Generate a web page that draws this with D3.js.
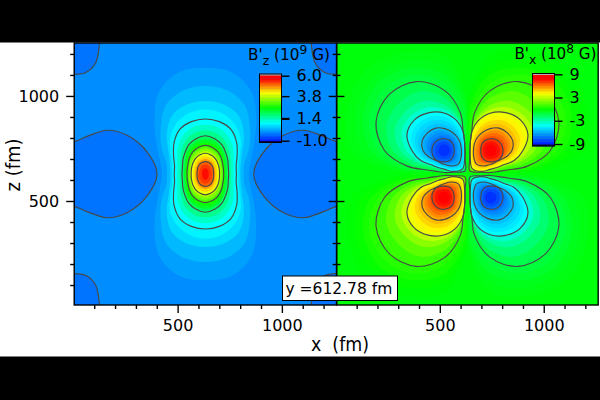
<!DOCTYPE html>
<html>
<head>
<meta charset="utf-8">
<script src="https://cdn.jsdelivr.net/npm/d3@7/dist/d3.min.js"></script>
<style>
html,body{margin:0;padding:0;background:#fff}
svg{display:block}
text{font-family:"DejaVu Sans",sans-serif;fill:#000}
.domain{display:none}
.tick line{stroke:#000;stroke-width:1.4}
</style>
</head>
<body>
<svg id="chart" width="600" height="400"></svg>
<script>
// Axis ticks, labels and colour bars
const majorTicks = [500, 1000];
const minorTicks = [100, 200, 300, 400, 600, 700, 800, 900, 1100, 1200];
const bzBarTicks = [6.0, 3.8, 1.4, -1.0];
const bzBarLabels = ["6.0", "3.8", "1.4", "-1.0"];
const bxBarTicks = [9, 3, -3, -9];
const bxBarLabels = ["9", "3", "-3", "-9"];
const sliceLabel = "y =612.78 fm";

// Field centre of both panels, in fm
const centreX = 633, centreZ = 628.5;

// B'z (10^9 G): iso-lines given as radii in fm from the centre, for one quadrant
const bzAngles = [0, 15, 30, 45, 60, 75, 90];
const bzBackground = 0.1;
const bzLowLevel = -0.1;
const bzLevels = [0.25, 0.45, 0.7, 0.9, 1, 1.35, 1.7, 2, 2.33, 2.66, 3, 3.33, 3.66, 4, 4.33, 4.66, 5, 5.2, 5.45];
const bzRadii = [
  [208, 224, 268, 345, 447, 500, 506],
  [184, 193, 242, 303, 378, 412, 419],
  [168, 176, 204, 262, 320, 342, 347],
  [160, 165, 192, 240, 278, 300, 307],
  [149, 153, 176, 212, 245, 258, 262],
  [135, 139, 156, 186, 213, 230, 234],
  [122, 125, 138, 161, 186, 202, 207],
  [112, 114, 125, 140, 160, 174, 182],
  [103, 105, 113, 130, 148, 161, 165],
  [95, 97, 104, 119, 134, 146, 149],
  [88, 90, 96, 108, 121, 131, 136],
  [80, 82, 88, 99, 110, 118, 122],
  [73, 75, 80, 89, 98, 105, 109],
  [68, 70, 74, 81, 89, 95, 99],
  [57, 59, 63, 69, 77, 82, 85],
  [48, 49, 53, 58, 65, 69, 71],
  [40, 41, 44, 49, 54, 58, 59],
  [30, 31, 33, 36, 40, 44, 45],
  [16, 17, 18, 20, 23, 26, 27]
];
const bzLineLevels = [1, 2, 3, 4, 5];

// Weak-field patches of B'z that meet the panel edges, offsets in fm from the centre
const bzSidePatch = [[690, 150], [626, 155], [567, 179], [471, 208], [375, 184], [279, 104], [232, 0]];
const bzCornerPatch = [[690, 470], [626, 474], [575, 482], [527, 527], [508, 620], [505, 680], [690, 680]];

// B'x (10^8 G): one lobe, radii in fm around its extremum at lobePeak
const lobePeak = [109, 112];
const bxAngles = [0, 22.5, 45, 67.5, 90, 112.5, 135, 157.5, 180, 202.5, 225, 247.5, 270, 292.5, 315, 337.5];
const bxLevels = [0.1, 0.25, 0.5, 0.75, 1, 1.6, 2.3, 3.1, 3.9, 4.3, 4.7, 5.05, 5.4, 5.8, 6.2, 6.6, 7, 7.5, 8];
const bxRadii = [
  [450, 505, 540, 505, 450, 270, 148, 110, 100, 110, 148, 112, 105, 110, 150, 260],
  [400, 465, 490, 465, 400, 260, 148, 110, 100, 110, 148, 112, 105, 110, 145, 240],
  [355, 425, 455, 425, 360, 240, 145, 108, 100, 110, 145, 112, 105, 108, 138, 225],
  [320, 395, 415, 390, 320, 215, 135, 105, 99, 108, 142, 112, 105, 108, 134, 210],
  [290, 358, 378, 355, 285, 195, 125, 103, 98, 106, 138, 112, 105, 108, 130, 195],
  [250, 305, 315, 305, 250, 180, 125, 103, 98, 105, 132, 112, 100, 100, 115, 170],
  [215, 260, 265, 255, 215, 168, 125, 103, 97, 104, 127, 111, 95, 94, 105, 150],
  [185, 225, 232, 222, 195, 160, 125, 103, 96, 103, 124, 110, 92, 90, 100, 135],
  [158, 197, 206, 195, 177, 152, 125, 103, 96, 103, 122, 108, 90, 88, 95, 125],
  [145, 175, 182, 175, 160, 135, 112, 97, 92, 98, 113, 100, 83, 80, 85, 112],
  [132, 155, 160, 155, 140, 122, 103, 92, 88, 93, 105, 93, 77, 74, 78, 102],
  [118, 136, 138, 135, 122, 108, 95, 87, 84, 89, 98, 86, 72, 68, 72, 92],
  [105, 118, 118, 115, 104, 94, 87, 82, 80, 85, 92, 80, 67, 62, 65, 82],
  [94, 104, 104, 101, 92, 84, 78, 72, 71, 75, 82, 72, 63, 61, 62, 76],
  [82, 90, 90, 87, 80, 74, 68, 62, 60, 64, 70, 65, 59, 60, 62, 71],
  [72, 75, 75, 72, 68, 64, 59, 54, 52, 55, 60, 58, 56, 58, 62, 67],
  [62, 62, 61, 59, 56, 54, 51, 47, 45, 47, 51, 54, 54, 57, 62, 63],
  [47, 47, 46, 45, 43, 41, 39, 36, 35, 36, 39, 41, 41, 43, 47, 48],
  [30, 30, 30, 29, 28, 27, 26, 24, 23, 24, 26, 27, 27, 29, 30, 31]
];
const bxLineLevels = [1, 3.9, 5.4, 7];
const lobeSigns = [[1, 1], [-1, 1], [-1, -1], [1, -1]];

// Colour ramp shared by both maps, position along the bar to colour
const rampStops = [0, 0.285, 0.51, 0.73, 0.93, 1];
const rampColors = ["#0000ff", "#00ffff", "#00ff00", "#ffff00", "#ff0000", "#ff0000"];
const ramp = d3.scaleLinear().domain(rampStops).range(rampColors).clamp(true);
const bzColor = d3.scaleLinear().domain([-1, 6]).range([0, 1]);
const bxColor = d3.scaleLinear().domain([-9, 9]).range([0, 1]);

const svg = d3.select("#chart");
svg.append("rect").attr("width", 600).attr("height", 400).attr("fill", "#fff");

const panelTop = 43, panelBottom = 305;
const leftRange = [74.2, 336.5], rightRange = [336.7, 598.2];
const xDomain = [4, 1262];
const zScale = d3.scaleLinear().domain([5, 1252]).range([panelBottom, panelTop]);
const xLeft = d3.scaleLinear().domain(xDomain).range(leftRange);
const xRight = d3.scaleLinear().domain(xDomain).range(rightRange);

const defs = svg.append("defs");
function addClip(id, range) {
  defs.append("clipPath").attr("id", id).append("rect")
    .attr("x", range[0]).attr("y", panelTop)
    .attr("width", range[1] - range[0]).attr("height", panelBottom - panelTop);
}
addClip("clip-left", leftRange);
addClip("clip-right", rightRange);

const toRad = d => d * Math.PI / 180;
const lineColor = "#484848";
const lineWidth = 1.15;

// Left panel: B'z
const left = svg.append("g").attr("clip-path", "url(#clip-left)");
left.append("rect").attr("x", leftRange[0]).attr("y", panelTop)
  .attr("width", leftRange[1] - leftRange[0]).attr("height", panelBottom - panelTop)
  .attr("fill", ramp(bzColor(bzBackground)));

const patchLine = d3.line().curve(d3.curveCatmullRom);
function drawPatches(patch, closedRing) {
  [1, -1].forEach(sx => {
    const pts = closedRing
      ? patch.concat(patch.slice(0, -1).reverse().map(p => [p[0], -p[1]]))
      : patch;
    (closedRing ? [1] : [1, -1]).forEach(sz => {
      const px = pts.map(p => [xLeft(centreX + sx * p[0]), zScale(centreZ + sz * p[1])]);
      left.append("path").attr("d", patchLine(px))
        .attr("fill", ramp(bzColor(bzLowLevel)))
        .attr("stroke", lineColor).attr("stroke-width", lineWidth);
    });
  });
}
drawPatches(bzSidePatch, true);
drawPatches(bzCornerPatch, false);

// One quadrant of radii is mirrored into a closed ring
function bzRing(radii) {
  const ring = [];
  bzAngles.forEach((a, i) => ring.push([radii[i] * Math.cos(toRad(a)), radii[i] * Math.sin(toRad(a))]));
  for (let i = bzAngles.length - 2; i >= 0; i--) ring.push([-ring[i][0], ring[i][1]]);
  for (let i = ring.length - 2; i > 0; i--) ring.push([ring[i][0], -ring[i][1]]);
  return ring;
}
const ringLine = d3.line().curve(d3.curveCatmullRomClosed.alpha(0.5));
bzLevels.forEach((level, i) => {
  const d = ringLine(bzRing(bzRadii[i]).map(p => [xLeft(centreX + p[0]), zScale(centreZ + p[1])]));
  left.append("path").attr("d", d).attr("fill", ramp(bzColor(level)));
});
bzLevels.forEach((level, i) => {
  if (!bzLineLevels.includes(level)) return;
  const d = ringLine(bzRing(bzRadii[i]).map(p => [xLeft(centreX + p[0]), zScale(centreZ + p[1])]));
  left.append("path").attr("d", d).attr("fill", "none")
    .attr("stroke", lineColor).attr("stroke-width", lineWidth);
});

// Right panel: B'x, four lobes of alternating sign
const right = svg.append("g").attr("clip-path", "url(#clip-right)");
right.append("rect").attr("x", rightRange[0]).attr("y", panelTop)
  .attr("width", rightRange[1] - rightRange[0]).attr("height", panelBottom - panelTop)
  .attr("fill", ramp(bxColor(0)));

function lobeRing(radii, sx, sz) {
  return bxAngles.map((a, i) => [
    xRight(centreX + sx * (lobePeak[0] + radii[i] * Math.cos(toRad(a)))),
    zScale(centreZ + sz * (lobePeak[1] + radii[i] * Math.sin(toRad(a))))
  ]);
}
lobeSigns.forEach(([sx, sz]) => {
  bxLevels.forEach((level, i) => {
    right.append("path").attr("d", ringLine(lobeRing(bxRadii[i], sx, sz)))
      .attr("fill", ramp(bxColor(level * sx * sz)));
  });
});
lobeSigns.forEach(([sx, sz]) => {
  bxLevels.forEach((level, i) => {
    if (!bxLineLevels.includes(level)) return;
    right.append("path").attr("d", ringLine(lobeRing(bxRadii[i], sx, sz)))
      .attr("fill", "none").attr("stroke", lineColor).attr("stroke-width", lineWidth);
  });
});

// Colour bars with their own value axes
function colorBar(x0, x1, top, bottom, domain, tickTop, tickBottom, colorOf, ticks, labels) {
  const y = d3.scaleLinear().domain(domain).range([tickBottom, tickTop]);
  const g = svg.append("g");
  const steps = d3.range(0, 48);
  const h = (bottom - top) / steps.length;
  g.selectAll("rect.step").data(steps).join("rect").attr("class", "step")
    .attr("x", x0).attr("width", x1 - x0)
    .attr("y", d => bottom - (d + 1) * h).attr("height", h + 0.4)
    .attr("fill", d => ramp(colorOf(domain[0] + (domain[1] - domain[0]) * (d + 0.5) / steps.length)));
  g.append("rect").attr("x", x0).attr("y", top).attr("width", x1 - x0).attr("height", 1.5).attr("fill", "#b4b4b4");
  g.append("rect").attr("x", x0).attr("y", bottom - 1.5).attr("width", x1 - x0).attr("height", 1.5).attr("fill", "#000050");
  g.append("rect").attr("x", x0).attr("y", top).attr("width", x1 - x0).attr("height", bottom - top)
    .attr("fill", "none").attr("stroke", "#000").attr("stroke-width", 1);
  const axis = d3.axisRight(y).tickValues(ticks).tickSize(8).tickPadding(7)
    .tickFormat((d, i) => labels[i]);
  const ag = g.append("g").attr("transform", `translate(${x1},0)`).call(axis);
  ag.selectAll("text").attr("font-size", 16).style("font-size", "16px");
  return ag;
}
const bzBar = colorBar(259.5, 281.5, 74, 142.5, [-1, 6], 75.7, 140.7, bzColor, bzBarTicks, bzBarLabels);
bzBar.selectAll(".tick line").filter(d => d === 1.4).style("stroke-width", 2.2);
colorBar(532.5, 554.5, 73.5, 146, [-9, 9], 74.3, 144, bxColor, bxBarTicks, bxBarLabels);

function barTitle(x, y, sub, exp) {
  const t = svg.append("text").attr("x", x).attr("y", y).attr("font-size", 16)
    .attr("xml:space", "preserve").attr("textLength", 82).attr("lengthAdjust", "spacingAndGlyphs");
  t.append("tspan").text("B'");
  t.append("tspan").attr("font-size", 13).attr("dy", 5).text(sub);
  t.append("tspan").attr("dy", -5).text(" (10");
  t.append("tspan").attr("font-size", 13).attr("dy", -6).text(exp);
  t.append("tspan").attr("dy", 6).text(" G)");
}
barTitle(248, 60, "z", "9");
barTitle(514.5, 59, "x", "8");

// Frames and axes
function xAxes(scale) {
  const g = svg.append("g").attr("transform", `translate(0,${panelBottom})`);
  g.append("g").call(d3.axisBottom(scale).tickValues(minorTicks).tickSize(4).tickFormat(""));
  const major = g.append("g").call(d3.axisBottom(scale).tickValues(majorTicks).tickSize(8).tickPadding(7).tickFormat(d3.format("d")));
  major.selectAll("text").style("font-size", "16px");
}
function zAxis(x, orient, withLabels) {
  const g = svg.append("g").attr("transform", `translate(${x},0)`);
  g.append("g").call(orient(zScale).tickValues(minorTicks).tickSize(4).tickFormat(""));
  const major = g.append("g").call(orient(zScale).tickValues(majorTicks).tickSize(8).tickPadding(7)
    .tickFormat(withLabels ? d3.format("d") : ""));
  major.selectAll("text").style("font-size", "16px");
}
xAxes(xLeft);
xAxes(xRight);
zAxis(leftRange[0], d3.axisLeft, true);
zAxis(leftRange[1], d3.axisRight, false);
zAxis(rightRange[0], d3.axisLeft, false);

[leftRange, rightRange].forEach(r => {
  svg.append("rect").attr("x", r[0]).attr("y", panelTop).attr("width", r[1] - r[0])
    .attr("height", panelBottom - panelTop).attr("fill", "none")
    .attr("stroke", "#000").attr("stroke-width", 1.4);
});

svg.append("text").attr("x", 311).attr("y", 350.5).attr("font-size", 20)
  .attr("textLength", 58).attr("lengthAdjust", "spacingAndGlyphs").text("x\u00a0\u00a0(fm)");
svg.append("text").attr("transform", "translate(20,165) rotate(-90)")
  .attr("text-anchor", "middle").attr("font-size", 20)
  .attr("textLength", 53).attr("lengthAdjust", "spacingAndGlyphs").text("z (fm)");

// Label naming the slice position
svg.append("rect").attr("x", 282.5).attr("y", 276).attr("width", 115).attr("height", 24.5)
  .attr("fill", "#fff").attr("stroke", "#000").attr("stroke-width", 1);
svg.append("text").attr("x", 285.5).attr("y", 294).attr("font-size", 15.5).text(sliceLabel);

// Letterbox bands
svg.append("rect").attr("width", 600).attr("height", 42.5).attr("fill", "#000");
svg.append("rect").attr("y", 356.5).attr("width", 600).attr("height", 43.5).attr("fill", "#000");
</script>
</body>
</html>
